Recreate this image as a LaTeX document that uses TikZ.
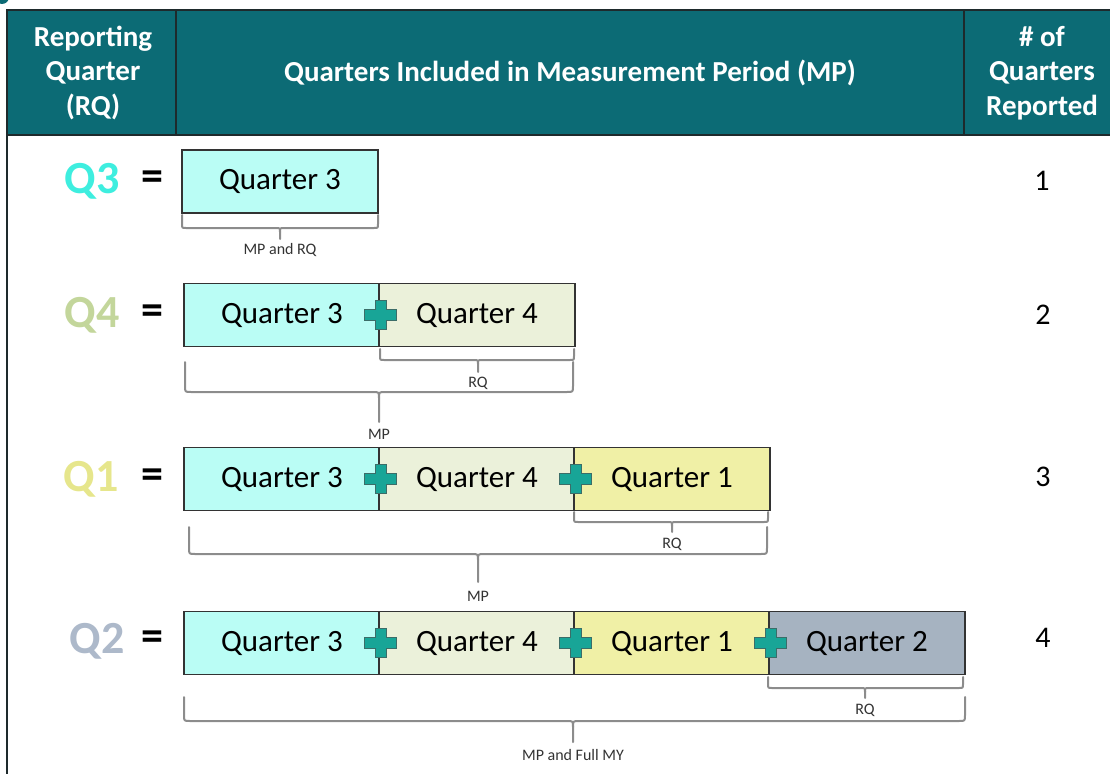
\documentclass[tikz,border=0pt]{standalone}
\usepackage{fontspec}
\setmainfont{Carlito}
\definecolor{hdrteal}{HTML}{0C6B75}
\definecolor{hdrline}{HTML}{1E2A2C}
\definecolor{cQthree}{HTML}{BAFDF5}
\definecolor{cQfour}{HTML}{EBF1DA}
\definecolor{cQone}{HTML}{F0F0A6}
\definecolor{cQtwo}{HTML}{A6B3C1}
\definecolor{lQthree}{HTML}{3EEEDF}
\definecolor{lQfour}{HTML}{C3D69B}
\definecolor{lQone}{HTML}{E6E68C}
\definecolor{lQtwo}{HTML}{ADB9CA}
\definecolor{plusfill}{HTML}{18A597}
\definecolor{plusline}{HTML}{3B6D68}
\definecolor{bracegray}{HTML}{8C8C8C}
\definecolor{labelgray}{HTML}{333333}
\tikzset{
  hdrtext/.style={text=white, align=center, font=\fontsize{29}{34.5}\selectfont\bfseries, inner sep=0pt},
  qbox/.style={draw=black!80, line width=1.1pt, minimum width=196pt, minimum height=63pt, inner sep=0pt, font=\fontsize{31}{36}\selectfont},
  qlabel/.style={font=\fontsize{46}{50}\selectfont\bfseries, inner sep=0pt},
  eqsign/.style={font=\fontsize{44}{48}\selectfont\bfseries, inner sep=0pt},
  countnum/.style={font=\fontsize{30}{36}\selectfont, inner sep=0pt},
  smalllab/.style={font=\fontsize{16}{18}\selectfont, text=labelgray, inner sep=0pt},
  braceline/.style={draw=bracegray, line width=2pt, line cap=round, line join=round},
  plussign/.pic={\filldraw[fill=plusfill, draw=plusline, line width=0.8pt]
    (-5.5,-14.5) -- (5.5,-14.5) -- (5.5,-5.5) -- (16,-5.5) -- (16,5.5) -- (5.5,5.5)
    -- (5.5,14.5) -- (-5.5,14.5) -- (-5.5,5.5) -- (-16,5.5) -- (-16,-5.5) -- (-5.5,-5.5) -- cycle;}
}
% #1 x1, #2 x2, #3 xt, #4 ytop, #5 ymid, #6 ybot, #7 r
\newcommand\qbrace[7]{%
  \draw[braceline] (#1,#4) -- (#1,{#5-#7}) .. controls (#1,#5) .. ({#1+#7},#5)
    -- ({#3-#7},#5) .. controls (#3,#5) .. (#3,{#5+#7}) -- (#3,#6);
  \draw[braceline] (#3,{#5+#7}) .. controls (#3,#5) .. ({#3+#7},#5)
    -- ({#2-#7},#5) .. controls (#2,#5) .. (#2,{#5-#7}) -- (#2,#4);
}
\begin{document}
\begin{tikzpicture}[x=1pt,y=-1pt]
\useasboundingbox (0,0) rectangle (1110,773);
\begin{scope}
\clip (0,0) rectangle (1110,773);
\fill[hdrteal] (2,-3) circle (7);
\filldraw[fill=hdrteal, draw=hdrline, line width=2pt] (7,10) rectangle (1116,135);
\draw[hdrline, line width=2pt] (176,10) -- (176,135);
\draw[hdrline, line width=2pt] (964,10) -- (964,135);
\draw[hdrline, line width=2pt] (7,135) -- (7,780);
\end{scope}

\node[hdrtext] (hrq) at (93,73) {Reporting\\Quarter\\(RQ)};
\node[hdrtext] (hmp) at (570,73) {Quarters Included in Measurement Period (MP)};
\node[hdrtext] (hnum) at (1042,73) {\# of\\Quarters\\Reported};

% Row 1
\node[qlabel, text=lQthree] (lab1) at (92,181) {Q3};
\node[eqsign] (eq1) at (152,181) {=};
\node[qbox, fill=cQthree] (r1a) at (280,181.5) {Quarter 3};
\node[countnum] (n1) at (1042,181) {1};
\qbrace{182}{378}{280}{215}{228}{239}{4}
\node[smalllab] (b1) at (280,250) {MP and RQ};

% Row 2
\node[qlabel, text=lQfour] (lab2) at (92,315) {Q4};
\node[eqsign] (eq2) at (152,315) {=};
\node[qbox, fill=cQthree] (r2a) at (282,315) {Quarter 3};
\node[qbox, fill=cQfour] (r2b) at (477,315) {Quarter 4};
\pic at (r2a.east) {plussign};
\node[countnum] (n2) at (1043,315) {2};
\qbrace{380}{574}{478}{349}{360}{372}{4}
\node[smalllab] (b2r) at (478,383) {RQ};
\qbrace{185}{573}{379}{362}{392}{422}{6}
\node[smalllab] (b2m) at (379,434) {MP};

% Row 3
\node[qlabel, text=lQone] (lab3) at (91,479) {Q1};
\node[eqsign] (eq3) at (152,479) {=};
\node[qbox, fill=cQthree] (r3a) at (282,479) {Quarter 3};
\node[qbox, fill=cQfour] (r3b) at (477,479) {Quarter 4};
\node[qbox, fill=cQone] (r3c) at (672,479) {Quarter 1};
\pic at (r3a.east) {plussign};
\pic at (r3b.east) {plussign};
\node[countnum] (n3) at (1043,477) {3};
\qbrace{574}{768}{672}{512}{522}{532}{4}
\node[smalllab] (b3r) at (672,544) {RQ};
\qbrace{189}{767}{478}{527}{554}{582}{6}
\node[smalllab] (b3m) at (478,596) {MP};

% Row 4
\node[qlabel, text=lQtwo] (lab4) at (97,641) {Q2};
\node[eqsign] (eq4) at (152,641) {=};
\node[qbox, fill=cQthree] (r4a) at (282,643) {Quarter 3};
\node[qbox, fill=cQfour] (r4b) at (477,643) {Quarter 4};
\node[qbox, fill=cQone] (r4c) at (672,643) {Quarter 1};
\node[qbox, fill=cQtwo] (r4d) at (867,643) {Quarter 2};
\pic at (r4a.east) {plussign};
\pic at (r4b.east) {plussign};
\pic at (r4c.east) {plussign};
\node[countnum] (n4) at (1043,638) {4};
\qbrace{768}{963}{865}{677}{688}{698}{4}
\node[smalllab] (b4r) at (865,710) {RQ};
\qbrace{184}{965}{573}{697}{721}{742}{6}
\node[smalllab] (b4m) at (573,755) {MP and Full MY};
\end{tikzpicture}
\end{document}
